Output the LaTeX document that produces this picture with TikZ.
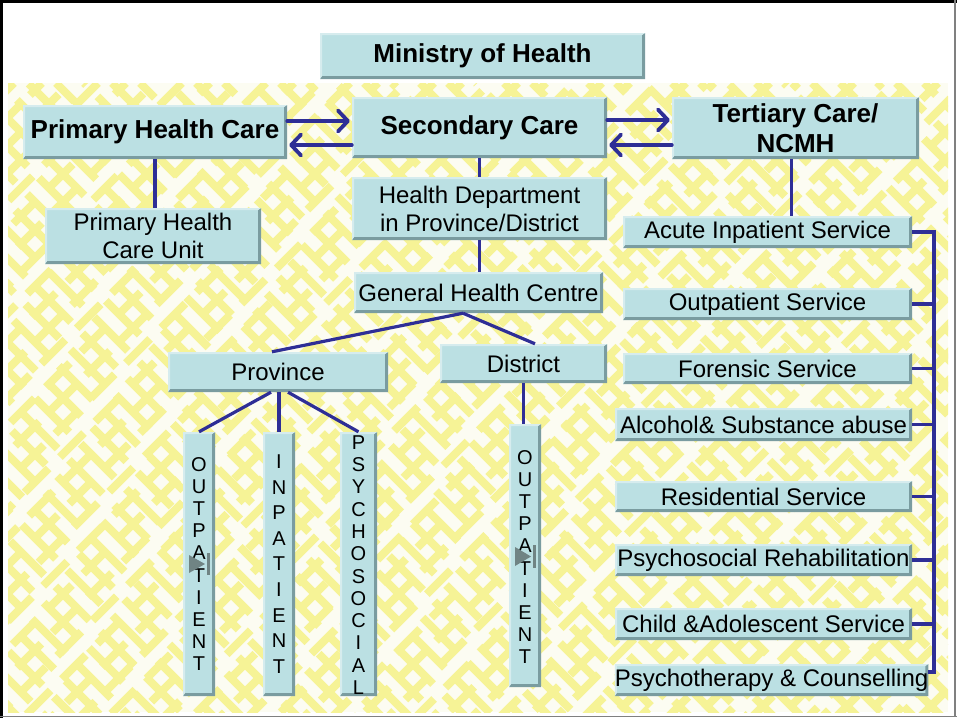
\documentclass[tikz,border=0pt]{standalone}
\usepackage{fontspec}
\setmainfont{Liberation Sans}
\usetikzlibrary{arrows.meta}
\definecolor{boxfill}{RGB}{187,224,227}
\definecolor{boxdark}{RGB}{122,156,160}
\definecolor{boxlight}{RGB}{214,236,238}
\definecolor{lineblue}{RGB}{46,46,150}
\definecolor{patyel}{RGB}{246,243,150}
\definecolor{patwhite}{RGB}{252,252,242}
\definecolor{icongray}{RGB}{112,132,132}
\newcommand\hdfont{\fontsize{26}{30}\selectfont\bfseries}
\newcommand\rgfont{\fontsize{24}{28}\selectfont}
\tikzset{
  box/.style 2 args={fill=boxfill, inner sep=0pt, minimum width=#1, minimum height=#2,
    path picture={
      \fill[boxdark] (path picture bounding box.south west) -- (path picture bounding box.south east)
        -- (path picture bounding box.north east) -- ([xshift=-3pt,yshift=-2pt]path picture bounding box.north east)
        -- ([xshift=-3pt,yshift=3pt]path picture bounding box.south east)
        -- ([xshift=2pt,yshift=3pt]path picture bounding box.south west) -- cycle;
      \fill[boxlight] (path picture bounding box.south west) -- (path picture bounding box.north west)
        -- (path picture bounding box.north east) -- ([xshift=-3pt,yshift=-2pt]path picture bounding box.north east)
        -- ([xshift=2pt,yshift=-2pt]path picture bounding box.north west)
        -- ([xshift=2pt,yshift=3pt]path picture bounding box.south west) -- cycle;
    }},
  hd/.style={font=\hdfont, align=center},
  rg/.style={font=\rgfont, align=center},
  vt/.style={font=\fontsize{20}{#1}\selectfont, align=center, inner sep=0pt},
  conn/.style={draw=lineblue, line width=3.2pt},
  arr/.style={draw=lineblue, line width=3.8pt, line cap=round, -{Straight Barb[length=10pt,width=21pt,round]}},
  patline/.style={draw=patyel, line width=8pt}
}
\begin{document}
\begin{tikzpicture}[x=1pt,y=-1pt]
\useasboundingbox (0,0) rectangle (957,718);
\fill[white] (0,0) rectangle (957,718);
% patterned background
\begin{scope}
  \clip (8,83) rectangle (948,712);
  \fill[patwhite] (8,83) rectangle (948,712);
  \foreach \k [evaluate=\k as \ph using {mod(\k*23+1000,64)}] in {-23,...,33}
    { \draw[patline, dash pattern=on 48pt off 16pt, dash phase=\ph pt] (\k*28, 83) -- ++(700,700); }
  \foreach \k [evaluate=\k as \ph using {mod(\k*17+1000,50)}] in {0,...,57}
    { \draw[patline, dash pattern=on 34pt off 16pt, dash phase=\ph pt] (\k*28+14, 83) -- ++(-700,700); }
\end{scope}
% frame
\draw[black, line width=3pt] (0,1.5) -- (957,1.5);
\draw[black, line width=3pt] (1.5,0) -- (1.5,718);
\draw[gray, line width=1.5pt] (955,0) -- (955,716.5);
\draw[gray, line width=1.5pt] (0,716.5) -- (957,716.5);

% top-level boxes
\node[box={325pt}{46pt}, hd] (min) at (482.5,56) {Ministry of Health};
\node[box={264pt}{54pt}, hd] (phc) at (155,132) {Primary Health Care};
\node[box={255pt}{61pt}, hd] (sc) at (479.5,127.5) {Secondary Care};
\node[box={247pt}{62pt}, hd] (tc) at (795.5,128) {Tertiary Care/\\NCMH};

% second level
\node[box={216pt}{56pt}, rg] (phcu) at (153,236) {Primary Health\\Care Unit};
\node[box={255pt}{63pt}, rg] (hdp) at (479.5,208.5) {Health Department\\in Province/District};
\node[box={249pt}{41pt}, rg] (ghc) at (478.5,292.5) {General Health Centre};
\node[box={220pt}{40pt}, rg] (prov) at (278,372) {Province};
\node[box={167pt}{39pt}, rg] (dist) at (523.5,363.5) {District};

% vertical boxes
\node[box={32pt}{264pt}] (out1) at (199,564) {};
\node[box={32pt}{264pt}] (inp) at (279,564) {};
\node[box={37pt}{264pt}] (psy) at (358.5,564) {};
\node[box={32pt}{263pt}] (out2) at (525,555.5) {};
\node[vt=22.2pt] (out1t) at (out1.center) {O\\U\\T\\P\\A\\T\\I\\E\\N\\T};
\node[vt=25.6pt] (inpt) at (inp.center) {I\\N\\P\\A\\T\\I\\E\\N\\T};
\node[vt=22.3pt] (psyt) at ([yshift=-1pt]psy.center) {P\\S\\Y\\C\\H\\O\\S\\O\\C\\I\\A\\L};
\node[vt=22.2pt] (out2t) at ([yshift=-1.5pt]out2.center) {O\\U\\T\\P\\A\\T\\I\\E\\N\\T};
% small media icons
\fill[icongray] (189,555) -- (205,564) -- (189,573) -- cycle;
\fill[icongray] (207,553) rectangle (209.5,575);
\fill[icongray] (515,547) -- (531,556.5) -- (515,566) -- cycle;
\fill[icongray] (533,545) rectangle (535.5,568);

% right column services
\node[box={289pt}{32pt}, rg] (acute) at (767.5,232) {Acute Inpatient Service};
\node[box={289pt}{32pt}, rg] (ops) at (767.5,304) {Outpatient Service};
\node[box={289pt}{31pt}, rg] (fors) at (767.5,368.5) {Forensic Service};
\node[box={297pt}{33pt}, rg] (alc) at (763.5,424.5) {Alcohol\& Substance abuse};
\node[box={297pt}{31pt}, rg] (res) at (763.5,496.5) {Residential Service};
\node[box={297pt}{32pt}, rg] (psr) at (763.5,560) {Psychosocial Rehabilitation};
\node[box={297pt}{32pt}, rg] (chi) at (763.5,624) {Child \&Adolescent Service};
\node[box={313pt}{32pt}, rg] (pco) at (771.5,680) {Psychotherapy \& Counselling};

% arrows between care levels
\draw[arr] ([yshift=11pt]phc.east) -- ([xshift=-2pt,yshift=6.5pt]sc.west);
\draw[arr] ([yshift=-17.5pt]sc.west) -- ([xshift=2pt,yshift=-13pt]phc.east);
\draw[arr] ([yshift=7.5pt]sc.east) -- ([xshift=-2pt,yshift=8pt]tc.west);
\draw[arr] ([yshift=-17pt]tc.west) -- ([xshift=2pt,yshift=-17.5pt]sc.east);

% connectors
\draw[conn] (phc.south) -- (phc.south |- phcu.north);
\draw[conn] (sc.south) -- (hdp.north);
\draw[conn] (hdp.south) -- (hdp.south |- ghc.north);
\draw[conn] ([xshift=-15.5pt]ghc.south) -- ([xshift=-6pt]prov.north);
\draw[conn] ([xshift=-15.5pt]ghc.south) -- ([xshift=11.5pt]dist.north);
\draw[conn] ([xshift=-7pt]prov.south) -- (out1.north);
\draw[conn] ([xshift=1pt]prov.south) -- ([xshift=1pt]prov.south |- inp.north);
\draw[conn] ([xshift=10pt]prov.south) -- (psy.north);
\draw[conn] (dist.south) -- (dist.south |- out2.north);
\draw[conn] ([xshift=-4pt]tc.south) -- ([xshift=-4pt]tc.south |- acute.north);

% right bracket
\coordinate (brtop) at (934,232);
\coordinate (brbot) at (934,672);
\draw[conn] (acute.east) -- (brtop) -- (brbot) -- (brbot -| pco.east);
\draw[conn] (ops.east) -- (ops.east -| brtop);
\draw[conn] (fors.east) -- (fors.east -| brtop);
\draw[conn] (alc.east) -- (alc.east -| brtop);
\draw[conn] (res.east) -- (res.east -| brtop);
\draw[conn] (psr.east) -- (psr.east -| brtop);
\draw[conn] (chi.east) -- (chi.east -| brtop);
\end{tikzpicture}
\end{document}
